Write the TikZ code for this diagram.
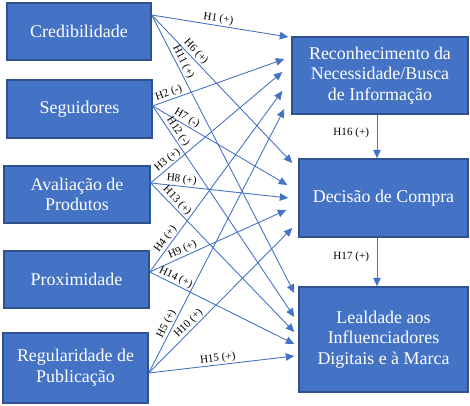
\documentclass[tikz,border=0pt]{standalone}
\usepackage{fontspec}
\setmainfont{Liberation Serif}
\newfontfamily\boxfont{Liberation Serif}
\usetikzlibrary{arrows.meta}
\definecolor{boxblue}{HTML}{4472C4}
\definecolor{boxedge}{HTML}{2F528F}
\tikzset{
  factor/.style={draw=boxedge, line width=0.8pt, fill=boxblue, text=white, align=center,
    font=\boxfont\fontsize{10.2}{11.8}\selectfont, inner sep=0pt},
  hyp/.style={draw=boxblue, line width=0.5pt, -{Triangle[length=0.17cm,width=0.15cm]}},
  hlabel/.style={font=\boxfont\fontsize{6.3}{7}\selectfont, sloped, above, inner sep=0.6pt}
}

\begin{document}
\begin{tikzpicture}
\useasboundingbox (0,0) rectangle (9.4,-8.12);
\node [factor, minimum width=2.88cm, minimum height=1.14cm] (cred) at (1.58,-0.63) {Credibilidade};
\node [factor, minimum width=2.9cm, minimum height=1.16cm] (seg) at (1.59,-2.18) {Seguidores};
\node [factor, minimum width=2.92cm, minimum height=1.14cm] (aval) at (1.54,-3.89) {Avaliação de\\Produtos};
\node [factor, minimum width=2.9cm, minimum height=1.14cm] (prox) at (1.53,-5.59) {Proximidade};
\node [factor, minimum width=2.9cm, minimum height=1.4cm] (reg) at (1.51,-7.36) {Regularidade de\\Publicação};
\node [factor, minimum width=3.52cm, minimum height=1.54cm] (rec) at (7.6,-1.51) {Reconhecimento da\\Necessidade/Busca\\de Informação};
\node [factor, minimum width=3.38cm, minimum height=1.56cm] (dec) at (7.67,-3.96) {Decisão de Compra};
\node [factor, minimum width=3.38cm, minimum height=2.1cm] (leal) at (7.67,-6.79) {Lealdade aos\\Influenciadores\\Digitais e à Marca};

\coordinate (cred-o) at ([yshift=0.33cm]cred.east);
\coordinate (seg-o) at ([yshift=0.06cm]seg.east);
\coordinate (aval-o) at ([yshift=0.23cm]aval.east);
\coordinate (prox-o) at ([yshift=0.15cm]prox.east);
\coordinate (reg-o) at ([yshift=-0.1cm]reg.east);

\coordinate (rec-1) at ([shift={(-0.06,0.77)}]rec.west);
\coordinate (rec-2) at ([shift={(-0.14,0.33)}]rec.west);
\coordinate (rec-3) at ([shift={(-0.18,0.07)}]rec.west);
\coordinate (rec-4) at ([shift={(-0.18,-0.31)}]rec.west);
\coordinate (rec-5) at ([shift={(-0.14,-0.67)}]rec.west);
\coordinate (dec-1) at ([shift={(-0.12,0.70)}]dec.west);
\coordinate (dec-2) at ([shift={(-0.22,0.26)}]dec.west);
\coordinate (dec-3) at ([shift={(-0.2,0)}]dec.west);
\coordinate (dec-4) at ([shift={(-0.24,-0.24)}]dec.west);
\coordinate (dec-5) at ([shift={(-0.12,-0.6)}]dec.west);
\coordinate (leal-1) at ([shift={(-0.08,0.93)}]leal.west);
\coordinate (leal-2) at ([shift={(-0.08,0.45)}]leal.west);
\coordinate (leal-3) at ([shift={(-0.08,0.15)}]leal.west);
\coordinate (leal-4) at ([shift={(-0.08,-0.09)}]leal.west);
\coordinate (leal-5) at ([shift={(-0.08,-0.33)}]leal.west);

\draw [hyp] (cred-o) -- node[hlabel, pos=0.48] {H1 (+)} (rec-1);
\draw [hyp] (seg-o) -- node[hlabel, pos=0.14] {H2 (-)} (rec-2);
\draw [hyp] (aval-o) -- node[hlabel, pos=0.16] {H3 (+)} (rec-3);
\draw [hyp] (prox-o) -- node[hlabel, pos=0.16] {H4 (+)} (rec-4);
\draw [hyp] (reg-o) -- node[hlabel, pos=0.175] {H5 (+)} (rec-5);
\draw [hyp] (cred-o) -- node[hlabel, pos=0.28] {H6 (+)} (dec-1);
\draw [hyp] (seg-o) -- node[hlabel, pos=0.23] {H7 (-)} (dec-2);
\draw [hyp] (aval-o) -- node[hlabel, pos=0.22] {H8 (+)} (dec-3);
\draw [hyp] (prox-o) -- node[hlabel, pos=0.26] {H9 (+)} (dec-4);
\draw [hyp] (reg-o) -- node[hlabel, pos=0.31] {H10 (+)} (dec-5);
\draw [hyp] (cred-o) -- node[hlabel, pos=0.18] {H11 (+)} (leal-1);
\draw [hyp] (seg-o) -- node[hlabel, pos=0.14] {H12 (-)} (leal-2);
\draw [hyp] (aval-o) -- node[hlabel, pos=0.15] {H13 (+)} (leal-3);
\draw [hyp] (prox-o) -- node[hlabel, pos=0.16] {H14 (+)} (leal-4);
\draw [hyp] (reg-o) -- node[hlabel, pos=0.48] {H15 (+)} (leal-5);

\coordinate (dec-in) at ([xshift=-0.13cm]dec.north);
\coordinate (dec-out) at ([xshift=-0.13cm]dec.south);
\draw [hyp] (dec-in |- rec.south) -- node[font=\boxfont\fontsize{6.3}{7}\selectfont, left=1pt, pos=0.42] {H16 (+)} (dec-in);
\draw [hyp] (dec-out) -- node[font=\boxfont\fontsize{6.3}{7}\selectfont, left=1pt, pos=0.4] {H17 (+)} (dec-out |- leal.north);
\end{tikzpicture}
\end{document}
